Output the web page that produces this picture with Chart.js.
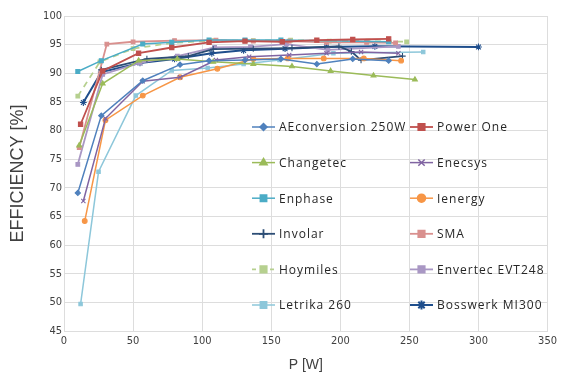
<!DOCTYPE html>
<html>
<head>
<meta charset="utf-8">
<script src="https://cdn.jsdelivr.net/npm/chart.js@4.4.1/dist/chart.umd.min.js"></script>
<style>
html,body{margin:0;padding:0;background:#fff;}
#wrap{width:561px;height:376px;position:relative;}
</style>
</head>
<body>
<div id="wrap"><canvas id="c" width="561" height="376"></canvas></div>
<script>
// ---- data (P [W], efficiency [%]) ----
const seriesNames = ["AEconversion 250W","Power One","Changetec","Enecsys","Enphase","Ienergy","Involar","SMA","Hoymiles","Envertec EVT248","Letrika 260","Bosswerk MI300"];

const aeconvP   = [10,27,57,84,105,131,157,183,209,235];
const aeconvEff = [69.1,82.6,88.7,91.5,92.2,92.3,92.5,91.6,92.5,92.2];

const powerOneP   = [12,28,54,78,105,131,158,183,209,235];
const powerOneEff = [81.1,90.4,93.5,94.5,95.4,95.6,95.5,95.8,95.9,96.0];

const changetecP   = [11,28,54,82,108,137,165,193,224,254];
const changetecEff = [77.4,88.2,92.2,92.5,92.0,91.6,91.2,90.4,89.6,88.9];

const enecsysP   = [14,30,57,84,110,134,163,190,215,242];
const enecsysEff = [67.7,82.1,88.6,89.3,92.3,92.9,93.2,93.5,93.7,93.5];

const enphaseP   = [10,27,57,78,105,131,157,235];
const enphaseEff = [90.3,92.2,95.1,95.4,95.8,95.8,95.8,95.5];

const ienergyP   = [15,30,57,84,111,137,162,188,217,244];
const ienergyEff = [64.2,81.8,86.1,89.3,90.8,92.5,92.6,92.6,92.6,92.2];

const involarP   = [27,60,90,108,137,165,199,208,215,245];
const involarEff = [90.6,92.5,93.0,94.2,94.3,94.4,94.7,93.8,92.3,93.0];

const smaP   = [11,31,50,80,110,137,163,190,219,240];
const smaEff = [77.0,95.1,95.5,95.7,95.8,95.6,95.6,95.4,95.4,95.3];

const hoymilesP   = [10,26,50,78,108,137,164,192,220,248];
const hoymilesEff = [86.0,92.0,94.3,95.3,95.7,95.7,95.8,95.6,95.6,95.5];

const envertecP   = [10,28,55,82,109,135,161,191,242];
const envertecEff = [74.1,89.8,91.8,93.0,94.5,94.6,95.1,94.1,94.7];

const letrikaP   = [12,25,52,78,104,130,156,195,260];
const letrikaEff = [49.7,72.8,86.1,90.5,90.9,91.6,92.3,93.5,93.7];

const bosswerkP   = [14,27,55,80,107,130,160,190,225,300];
const bosswerkEff = [84.9,90.2,91.8,92.5,93.5,94.0,94.3,94.6,94.7,94.6];

const xTicks = [0,50,100,150,200,250,300,350];
const yTicks = [45,50,55,60,65,70,75,80,85,90,95,100];

// ---- build ----
function pts(p, e){ return p.map((v,i)=>({x:v, y:e[i]})); }
const styles = [
  {c:'#4F81BD', s:'rectRot', r:2.6, w:1.5},
  {c:'#C0504D', s:'rect',    r:3,   w:1.8},
  {c:'#9BBB59', s:'triangle',r:2.8, w:1.5},
  {c:'#8064A2', s:'crossRot',r:3,   w:1.5},
  {c:'#4BACC6', s:'rect',    r:2.8, w:1.5},
  {c:'#F79646', s:'circle',  r:2.4, w:1.5},
  {c:'#2C4D75', s:'cross',   r:3.2, w:1.8},
  {c:'#D9908E', s:'rect',    r:2.6, w:1.8},
  {c:'#B6D08F', s:'rect',    r:2.6, w:1.8, d:[6,5]},
  {c:'#A997C4', s:'rect',    r:2.6, w:1.8},
  {c:'#8DC7DA', s:'rect',    r:2.4, w:1.5},
  {c:'#1F4E8C', s:'star',    r:3.4, w:2}
];
const legendR = [3.5,4.5,4.2,4.5,4.5,4,4.5,4.5,4.5,4.5,4.5,4.5];
const dataArrs = [
  pts(aeconvP,aeconvEff), pts(powerOneP,powerOneEff), pts(changetecP,changetecEff),
  pts(enecsysP,enecsysEff), pts(enphaseP,enphaseEff), pts(ienergyP,ienergyEff),
  pts(involarP,involarEff), pts(smaP,smaEff), pts(hoymilesP,hoymilesEff),
  pts(envertecP,envertecEff), pts(letrikaP,letrikaEff), pts(bosswerkP,bosswerkEff)
];
const datasets = seriesNames.map((n,i)=>({
  label:n, data:dataArrs[i],
  borderColor:styles[i].c, backgroundColor:styles[i].c,
  borderWidth:styles[i].w, borderDash:styles[i].d||[],
  pointStyle:styles[i].s, pointRadius:styles[i].r,
  pointBorderWidth:1.1, pointBorderColor:styles[i].c, pointBackgroundColor:styles[i].c,
  pointHoverRadius:styles[i].r, tension:0, fill:false
}));

const whiteBg = {id:'whiteBg', beforeDraw(ch){const c=ch.ctx;c.save();c.fillStyle='#fff';c.fillRect(0,0,ch.width,ch.height);c.restore();}};

const insideLegend = {
  id:'insideLegend',
  afterDraw(ch){
    const ctx = ch.ctx;
    ch.data.datasets.forEach((ds,i)=>{
      const col = i%2, row = Math.floor(i/2);
      const lx = col ? 410 : 252;
      const y = 127 + row*35.6;
      ctx.save();
      ctx.strokeStyle = ds.borderColor;
      ctx.lineWidth = ds.borderWidth;
      ctx.setLineDash(ds.borderDash && ds.borderDash.length ? [4,5] : []);
      ctx.beginPath(); ctx.moveTo(lx,y); ctx.lineTo(lx+23,y); ctx.stroke();
      ctx.setLineDash([]);
      ctx.fillStyle = ds.backgroundColor;
      ctx.strokeStyle = ds.borderColor;
      Chart.helpers.drawPoint(ctx,{pointStyle:ds.pointStyle, radius:legendR[i], borderWidth:1.2, rotation:0}, lx+11.5, y);
      ctx.fillStyle = '#262626';
      ctx.font = '12px "Open Sans", sans-serif';
      try{ ctx.letterSpacing = '1px'; }catch(e){}
      ctx.textBaseline = 'middle';
      ctx.textAlign = 'left';
      ctx.fillText(ds.label, lx+27, y+1);
      ctx.restore();
    });
  }
};

const gridCol = '#dddddd';
new Chart(document.getElementById('c'), {
  type:'line',
  data:{datasets},
  options:{
    responsive:false, animation:false,
    layout:{padding:{top:16, right:12, left:0, bottom:0}},
    plugins:{legend:{display:false}, tooltip:{enabled:false}},
    scales:{
      x:{
        type:'linear', min:0, max:350,
        afterBuildTicks(s){ s.ticks = xTicks.map(v=>({value:v})); },
        afterFit(s){ s.height = 45; },
        grid:{color:gridCol, drawTicks:false},
        border:{color:gridCol},
        ticks:{padding:4, color:'#404040', font:{family:'"Liberation Sans Narrow","DejaVu Sans Condensed",sans-serif', size:11}},
        title:{display:true, text:'P [W]', color:'#404040', font:{family:'"Liberation Sans","Arial",sans-serif', size:14}, padding:{top:0,bottom:2}}
      },
      y:{
        type:'linear', min:45, max:100,
        afterBuildTicks(s){ s.ticks = yTicks.map(v=>({value:v})); },
        afterFit(s){ s.width = 64; },
        grid:{color:gridCol, drawTicks:false},
        border:{color:gridCol},
        ticks:{padding:2, color:'#404040', font:{family:'"Liberation Sans Narrow","DejaVu Sans Condensed",sans-serif', size:11}},
        title:{display:true, text:'EFFICIENCY [%]', color:'#404040', font:{family:'"Liberation Sans","Arial",sans-serif', size:18}, padding:{top:7,bottom:0}}
      }
    }
  },
  plugins:[whiteBg, insideLegend]
});
</script>
</body>
</html>
